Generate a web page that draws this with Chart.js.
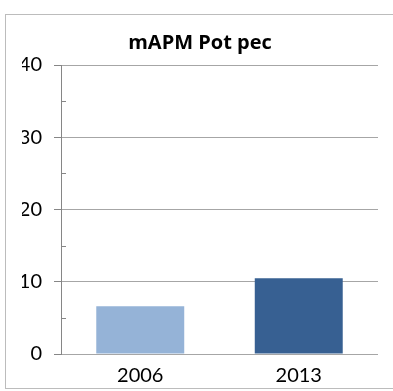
<!DOCTYPE html>
<html>
<head>
<meta charset="utf-8">
<script src="https://cdn.jsdelivr.net/npm/chart.js@4/dist/chart.umd.min.js"></script>
<style>
  html, body { margin: 0; padding: 0; background: #fff; }
  #marco { position: absolute; left: 5px; top: 14px; width: 400px; height: 373px; border: 1px solid #bcbcbc; }
  #lienzo { position: absolute; left: 0; top: 0; }
</style>
</head>
<body>
<div id="marco"></div>
<canvas id="lienzo" width="393" height="391"></canvas>
<script>
// datos
const categorias = ['2006', '2013'];
const valores = [6.6, 10.5];
const colores = ['#95b3d7', '#376092'];
const marcasMenores = [5, 15, 25, 35];

// marcas pequeñas hacia dentro del eje (las de 5, 15...)
const pluginMarcas = {
    id: 'marcasMenores',
    afterDraw(chart) {
        const ctx = chart.ctx;
        const y = chart.scales.y;
        const x0 = chart.chartArea.left;
        ctx.save();
        ctx.strokeStyle = '#868686';
        ctx.lineWidth = 1;
        marcasMenores.forEach(v => {
            const py = Math.round(y.getPixelForValue(v)) + 0.5;
            ctx.beginPath();
            ctx.moveTo(x0, py);
            ctx.lineTo(x0 + 5, py);
            ctx.stroke();
        });
        ctx.restore();
    }
};

const ctx = document.getElementById('lienzo').getContext('2d');
new Chart(ctx, {
    type: 'bar',
    data: {
        labels: categorias,
        datasets: [{
            data: valores,
            backgroundColor: colores,
            categoryPercentage: 1,
            barPercentage: 0.555
        }]
    },
    options: {
        responsive: false,
        animation: false,
        layout: { padding: { top: 31, right: 15, bottom: 0, left: 22 } },
        plugins: {
            legend: { display: false },
            tooltip: { enabled: false },
            title: {
                display: true,
                text: 'mAPM Pot pec',
                color: '#000',
                font: { family: 'Open Sans', size: 20, weight: 'bold' },
                padding: { top: 0, bottom: 10 }
            }
        },
        scales: {
            x: {
                afterFit(scale) { scale.height = 37; },
                grid: { display: false },
                border: { display: false },
                ticks: { color: '#000', padding: 2, font: { family: 'Lato', size: 20 } }
            },
            y: {
                min: 0,
                max: 40,
                afterFit(scale) { scale.width = 39; },
                grid: { color: '#a6a6a6', tickLength: 7, tickColor: '#868686' },
                border: { color: '#868686' },
                ticks: { stepSize: 10, color: '#000', padding: 12, font: { family: 'Lato', size: 20 } }
            }
        }
    },
    plugins: [pluginMarcas]
});
</script>
</body>
</html>
